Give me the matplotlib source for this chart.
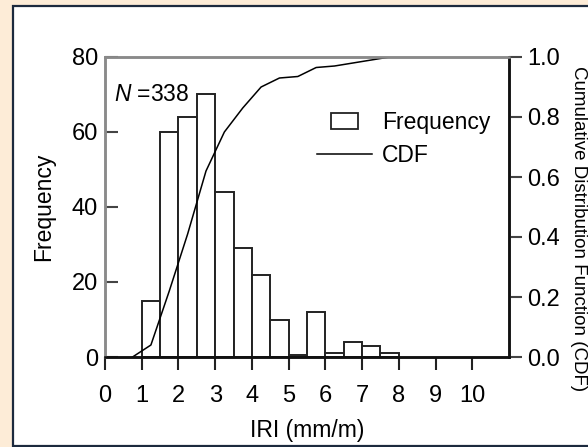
"""IRI histogram with cumulative distribution overlay."""
import matplotlib
matplotlib.use("Agg")
import matplotlib.pyplot as plt
from matplotlib.patches import Patch, Rectangle
from matplotlib.lines import Line2D
from matplotlib.legend_handler import HandlerPatch

plt.rcParams["font.family"] = ["Liberation Sans", "DejaVu Sans"]
plt.rcParams["mathtext.fontset"] = "custom"
plt.rcParams["mathtext.it"] = "Liberation Sans:italic"
plt.rcParams["mathtext.rm"] = "Liberation Sans"

# Histogram: bin left edges (mm/m), bin width, counts
bin_left = [1.0, 1.5, 2.0, 2.5, 3.0, 3.5, 4.0, 4.5, 5.0, 5.5, 6.0, 6.5, 7.0, 7.5]
bin_width = 0.5
freq = [15, 60, 64, 70, 44, 29, 22, 10, 0.5, 12, 1, 4, 3, 1]

# CDF
cdf_x = [0.75, 1.25, 1.75, 2.25, 2.75, 3.25, 3.75, 4.25, 4.75, 5.25, 5.75, 6.25, 6.75, 7.25, 7.75]
cdf_y = [0.0, 0.04, 0.22, 0.41, 0.62, 0.75, 0.83, 0.90, 0.93, 0.935, 0.965, 0.97, 0.98, 0.99, 1.0]

x_ticks = list(range(0, 11))
freq_ticks = [0, 20, 40, 60, 80]
cdf_ticks = [0.0, 0.2, 0.4, 0.6, 0.8, 1.0]

W, H = 588, 447
fig = plt.figure(figsize=(W / 100, H / 100), dpi=100, facecolor="#fdecd7")

# white panel with dark frame
fig.patches.append(Rectangle((13 / W, 1 / H), 1.0, 440 / H, transform=fig.transFigure,
                             facecolor="white", edgecolor="#1c2a3e", lw=1.6, zorder=-10))

ax = fig.add_axes([105 / W, 1 - 357 / H, (509 - 105) / W, (357 - 57) / H])
ax.set_facecolor("none")
ax2 = ax.twinx()

ax.bar(bin_left, freq, width=bin_width, align="edge", facecolor="white",
       edgecolor="#222222", lw=1.4, zorder=2)
ax2.plot(cdf_x, cdf_y, color="black", lw=1.1)

ax.set_xlim(0, 11)
ax.set_ylim(0, 80)
ax2.set_ylim(0, 1.0)
ax.set_xticks(x_ticks)
ax.set_yticks(freq_ticks)
ax2.set_yticks(cdf_ticks)
ax2.set_yticklabels([f"{v:.1f}" for v in cdf_ticks])

grey = "#8a8a8a"
for a in (ax, ax2):
    a.spines["left"].set_color(grey)
    a.spines["top"].set_color(grey)
    a.spines["bottom"].set_color("#111111")
    a.spines["right"].set_color("#111111")
    for s in a.spines.values():
        s.set_linewidth(1.8)

ax.tick_params(axis="x", direction="out", length=9, width=1.5, color="#222222",
               labelsize=17, pad=11)
ax.tick_params(axis="y", direction="in", length=9, width=1.5, color="#444444",
               labelsize=17, pad=5)
ax2.tick_params(axis="y", direction="out", length=9, width=1.5, color="#444444",
                labelsize=17, pad=4)

ax.set_xlabel("IRI (mm/m)", fontsize=16.5, labelpad=9)
ax.set_ylabel("Frequency", fontsize=16.5, labelpad=12)
fig.text(578 / W, 1 - 229 / H, "Cumulative Distribution Function (CDF)",
         rotation=-90, ha="center", va="center", fontsize=13.5)

ax.text(0.25, 70, "$N$ =338", fontsize=16.5, va="center", ha="left")


def half_box(legend, orig_handle, xdescent, ydescent, width, height, fontsize):
    return Rectangle((-xdescent + width * 0.25, -ydescent), width * 0.5, height)


handles = [Patch(facecolor="white", edgecolor="#222222", lw=1.3),
           Line2D([], [], color="black", lw=1.1)]
ax.legend(handles, ["Frequency", "CDF"], frameon=False, fontsize=16.5,
          loc="upper left", bbox_to_anchor=(317 / W, 1 - 111 / H),
          bbox_transform=fig.transFigure, handlelength=2.4, handletextpad=0.45,
          labelspacing=0.45, borderpad=0, borderaxespad=0,
          handler_map={Patch: HandlerPatch(patch_func=half_box)})

fig.savefig("out.png", dpi=100, facecolor=fig.get_facecolor())
